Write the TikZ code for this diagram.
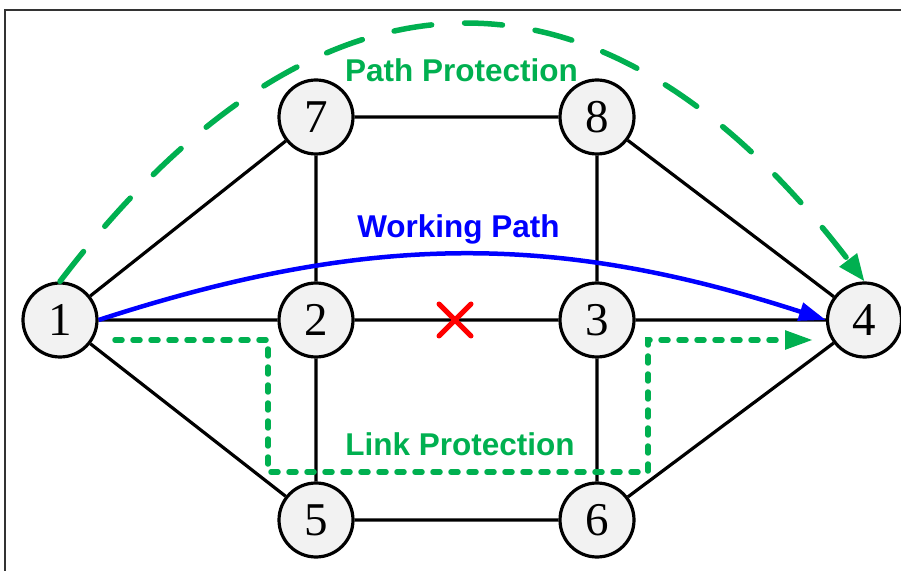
\documentclass[tikz,border=0pt]{standalone}
\usepackage{fontspec}
\setmainfont{Liberation Serif}
\newfontfamily\labelfont{Liberation Sans}
\usetikzlibrary{arrows.meta,shapes.misc,backgrounds}
\definecolor{protgreen}{HTML}{00B050}
\definecolor{workblue}{HTML}{0000FF}
\definecolor{failred}{HTML}{FF0000}
\definecolor{nodefill}{HTML}{F2F2F2}
\definecolor{framegray}{HTML}{333333}
\begin{document}
\begin{tikzpicture}[x=1pt,y=1pt,
  netnode/.style={circle, draw=black, line width=3.2pt, fill=nodefill,
    minimum size=74pt, inner sep=0pt, font=\fontsize{47}{47}\selectfont},
  link/.style={draw=black, line width=3.2pt},
  tag/.style={font=\labelfont\bfseries\fontsize{31.5}{31.5}\selectfont,
    anchor=base, inner sep=0pt},
  working/.style={draw=workblue, line width=4.5pt,
    -{Triangle[length=27pt,width=18pt]}},
  pathprot/.style={draw=protgreen, line width=5.5pt, line cap=round,
    dash pattern=on 38pt off 33pt, -{Triangle[length=27pt,width=21pt]}},
  linkprot/.style={draw=protgreen, line width=5.5pt, line cap=round,
    dash pattern=on 7pt off 11pt, -{Triangle[length=28pt,width=18pt]}},
]
\useasboundingbox (0,0) rectangle (901,570);

% outer frame
\draw[framegray, line width=2pt] (5,-20) -- (5,560) -- (920,560);

% network nodes
\node[netnode] (n1) at (60,250) {1};
\node[netnode] (n2) at (316,250) {2};
\node[netnode] (n3) at (597,250) {3};
\node[netnode] (n4) at (864.5,250) {4};
\node[netnode] (n5) at (316,50) {5};
\node[netnode] (n6) at (597,50) {6};
\node[netnode] (n7) at (316,453) {7};
\node[netnode] (n8) at (597,453) {8};

% links, kept behind the nodes
\begin{scope}[on background layer]
\path[link] (n1) -- (n7) (n1) -- (n2) (n1) -- (n5)
  (n7) -- (n8) (n7) -- (n2) (n2) -- (n3) (n2) -- (n5)
  (n8) -- (n3) (n8) -- (n4) (n3) -- (n4)
  (n5) -- (n6) (n6) -- (n3) (n6) -- (n4);
\end{scope}

% failed link
\node[draw=failred, cross out, line width=5pt, line cap=round,
  minimum size=27pt, inner sep=0pt] (cut) at (455,250) {};

% working path
\draw[working] (n1.east) to[bend left=18] (n4.west);

% path protection
\draw[pathprot] (n1.north) .. controls +(260,341) and +(-260,341) .. (n4.north);

% link protection detour
\coordinate (lp0) at (115,230);
\coordinate (lp1) at (268,230);
\coordinate (lp2) at (268,98);
\coordinate (lp3) at (648,98);
\coordinate (lp4) at (648,230);
\coordinate (lp5) at (813,230);
\draw[linkprot] (lp0) -- (lp1) -- (lp2) -- (lp3) -- (lp4) -- (lp5);

% labels
\node[tag, text=protgreen] (tpath) at (461.5,488) {Path Protection};
\node[tag, text=workblue] (twork) at (458.5,332) {Working Path};
\node[tag, text=protgreen] (tlink) at (460,114.3) {Link Protection};
\end{tikzpicture}
\end{document}
